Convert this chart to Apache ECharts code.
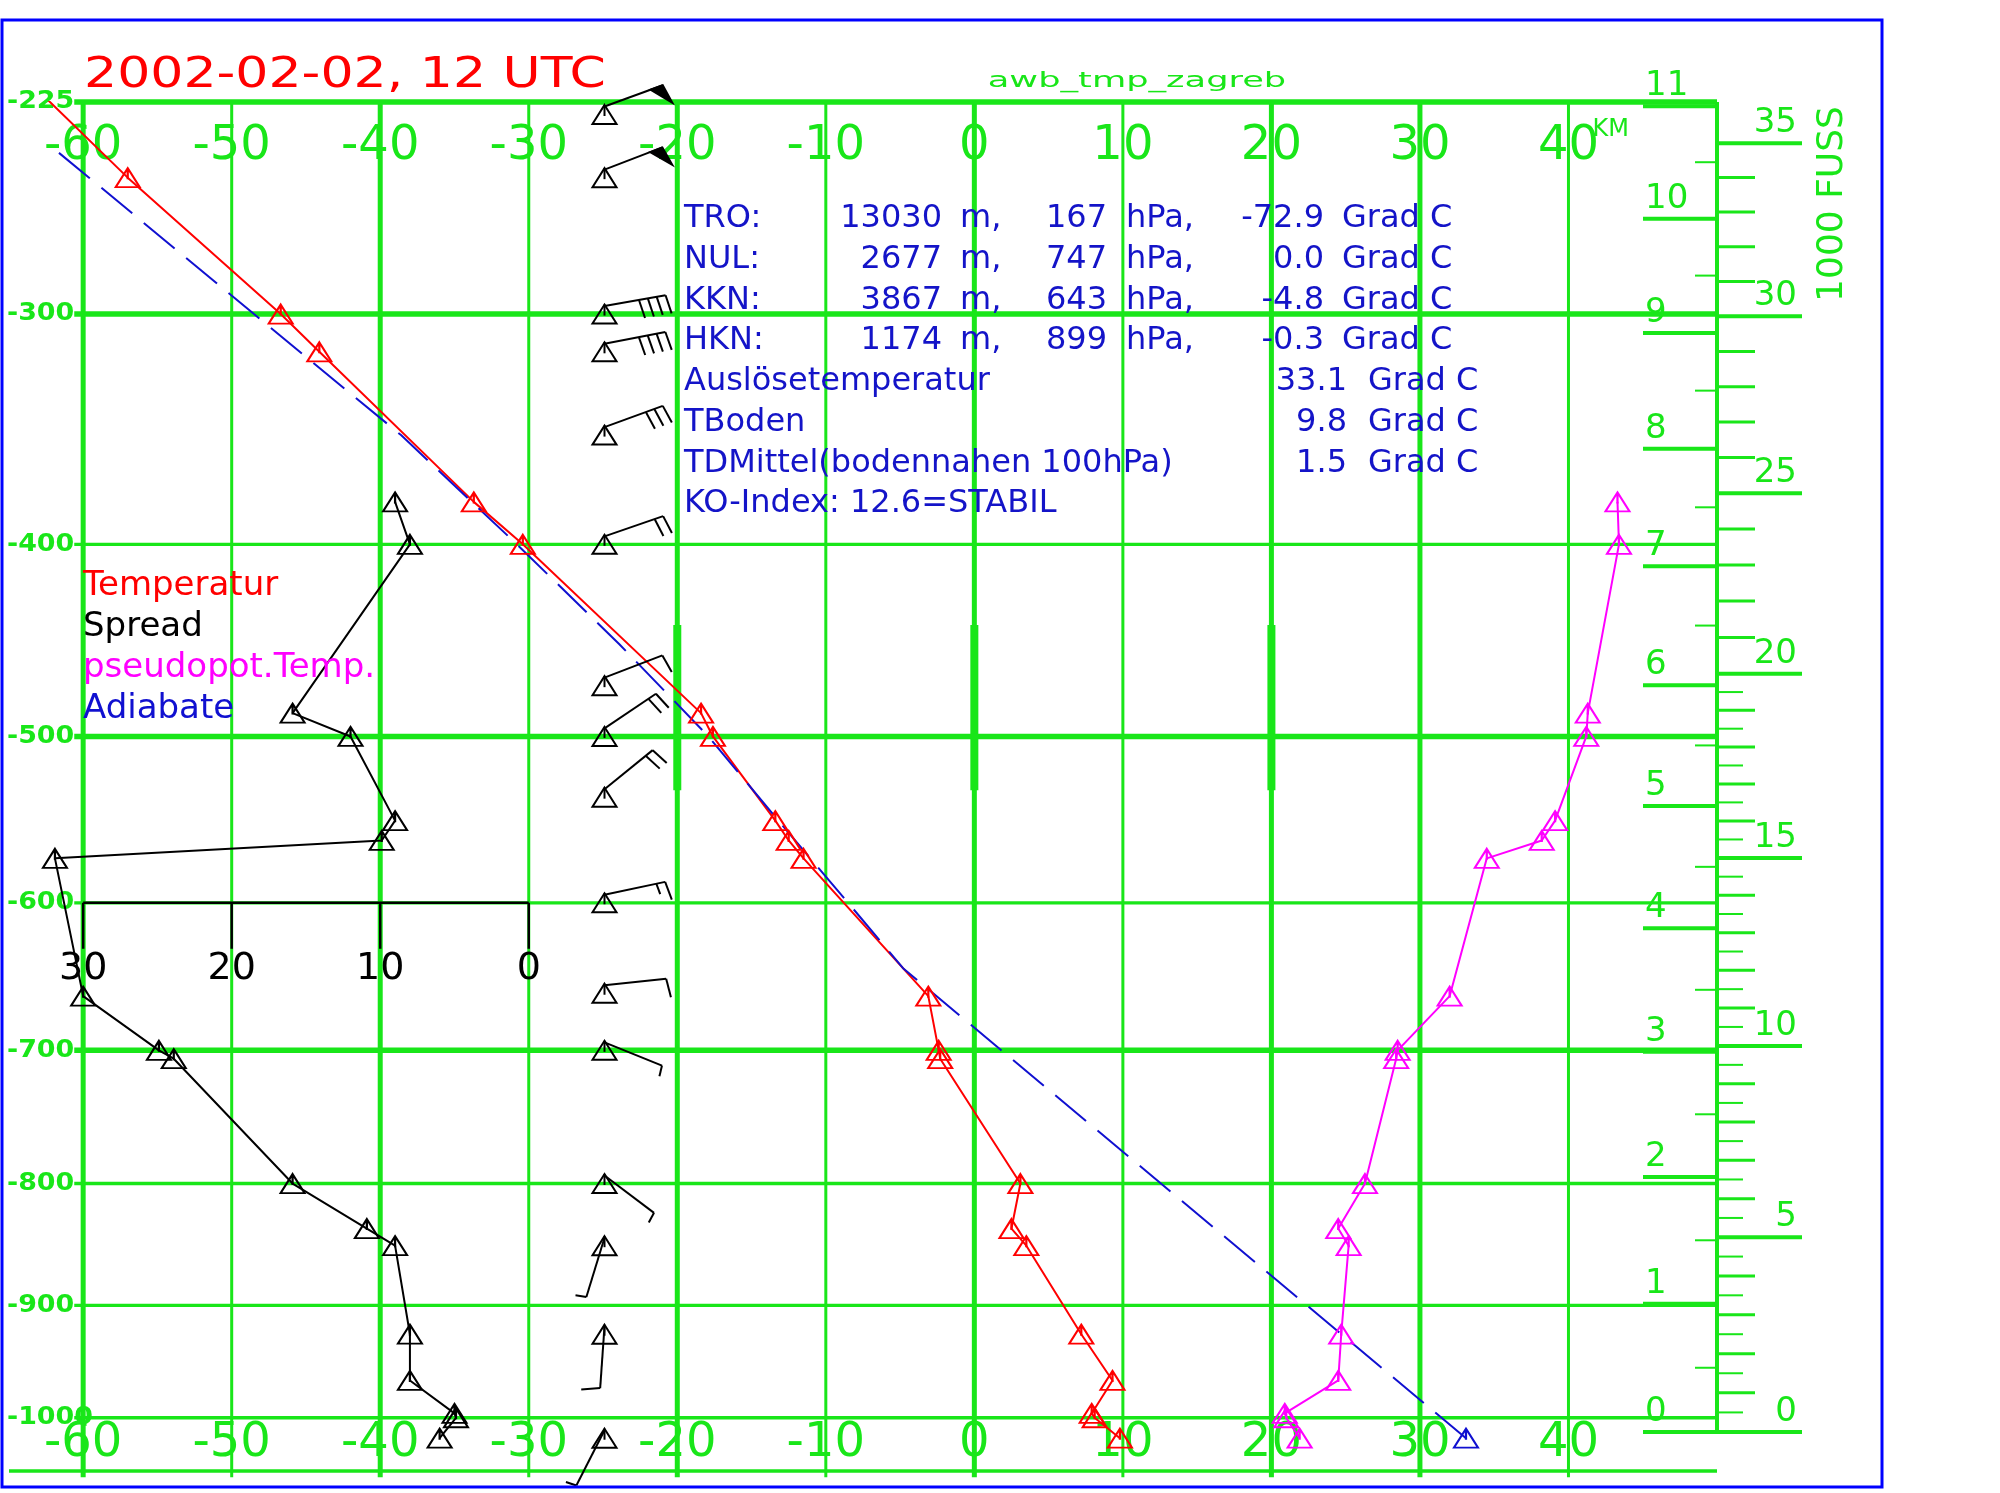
<!DOCTYPE html>
<html>
<head>
<meta charset="utf-8">
<title>awb_tmp_zagreb</title>
<script src="https://cdn.jsdelivr.net/npm/echarts@6/dist/echarts.min.js"></script>
<style>
  html, body { margin: 0; padding: 0; background: #fff; }
  #main { width: 2000px; height: 1493px; }
</style>
</head>
<body>
<div id="main"></div>
<script>
// sounding Zagreb, values (hPa / deg C / kt)
const tempP   = [200, 250, 300, 315, 380, 400, 487, 500, 549, 561, 572, 662, 700, 706, 800, 836, 850, 925, 966, 996, 1000, 1019];
const tempC   = [-67.9, -57.0, -46.7, -44.1, -33.7, -30.4, -18.4, -17.6, -13.4, -12.5, -11.5, -3.1, -2.4, -2.3, 3.1, 2.5, 3.5, 7.2, 9.3, 7.9, 8.1, 9.8];
const spreadP = [380, 400, 487, 500, 549, 561, 572, 662, 700, 706, 800, 836, 850, 925, 966, 996, 1000, 1019];
const spreadK = [9.0, 8.0, 15.9, 12.0, 9.0, 9.9, 31.9, 30.0, 24.9, 23.9, 15.9, 10.9, 9.0, 8.0, 8.0, 5.0, 4.9, 6.0];
const thetaP  = [380, 400, 487, 500, 549, 561, 572, 662, 700, 706, 800, 836, 850, 925, 966, 996, 1000, 1019];
const thetaC  = [43.3, 43.4, 41.3, 41.2, 39.1, 38.2, 34.5, 32.0, 28.5, 28.4, 26.3, 24.5, 25.2, 24.7, 24.5, 20.9, 21.0, 21.9];
const adiabatP = [1019, 643, 600, 550, 500, 450, 400, 350, 300, 250, 225];
const adiabatC = [33.1, -4.8, -8.5, -13.1, -17.9, -23.9, -30.8, -38.6, -48.5, -59.6, -65.8];
const windP   = [229, 250, 300, 315, 350, 400, 472, 500, 535, 600, 660, 700, 800, 850, 925, 1019];
const windDir = [70, 69, 80, 79, 70, 71, 69, 56, 51, 78, 84, 112, 127, 197, 184, 207];
const windKt  = [50, 50, 40, 40, 30, 20, 10, 20, 20, 15, 10, 5, 5, 5, 10, 5];

// axes / tick labels
const isotherms = [-60, -50, -40, -30, -20, -10, 0, 10, 20, 30, 40];
const isothermLabels = ['-60', '-50', '-40', '-30', '-20', '-10', '0', '10', '20', '30', '40'];
const pressureLines = [225, 300, 400, 500, 600, 700, 800, 900, 1000, 1050];
const pressureLabels = ['-225', '-300', '-400', '-500', '-600', '-700', '-800', '-900', '-1000', ''];
const kmLabels = [0, 1, 2, 3, 4, 5, 6, 7, 8, 9, 10, 11];
const ftLabels = [0, 5, 10, 15, 20, 25, 30, 35];
const spreadTicks = [30, 20, 10, 0];

// text block
const levelNames = ['TRO:', 'NUL:', 'KKN:', 'HKN:'];
const levelHeights = [13030, 2677, 3867, 1174];
const levelPressures = [167, 747, 643, 899];
const levelTemps = ['-72.9', '0.0', '-4.8', '-0.3'];
const extraNames = ['Auslösetemperatur', 'TBoden', 'TDMittel(bodennahen 100hPa)'];
const extraValues = ['33.1', '9.8', '1.5'];
const koIndex = 'KO-Index: 12.6=STABIL';

const RED = '#ff0000', GREEN = '#19e619', BLUE = '#1010d0', MAGENTA = '#ff00ff', BLACK = '#000000';
const FONT = '"DejaVu Sans", sans-serif';
const T_MIN = -62.3, T_MAX = 50, P_TOP = 225, P_BOTTOM = 1050;
const BARB_T = -24.9;
const TRI = 'path://M12,0L24,19L0,19ZM12,0L12,11';

// stuve diagram: y linear in p^0.286
const Y = p => Math.pow(p, 0.286);
// ICAO standard atmosphere for the height scales
const stdP = km => 1013.25 * Math.pow(1 - 0.0065 * km * 1000 / 288.15, 5.25588);

function seg(x1, y1, x2, y2, w, color) {
  return { type: 'line', shape: { x1, y1, x2, y2 }, style: { stroke: color, lineWidth: w } };
}
function txt(text, x, y, font, fill, align, sx, rot) {
  return {
    type: 'text', x, y, scaleX: sx || 1, rotation: rot || 0, z: 100,
    style: { text, font, fill, align, verticalAlign: 'middle', textAlign: align, textVerticalAlign: 'middle' }
  };
}

function renderFrame(params, api) {
  const X = t => api.coord([t, Y(500)])[0];
  const P = p => api.coord([0, Y(p)])[1];
  const kids = [];
  const top = P(P_TOP), right = X(T_MAX);
  const heavyT = [-60, -40, -20, 0, 20, 30];
  const heavyP = [225, 300, 500, 700];

  isotherms.forEach((t, i) => {
    const x = X(t);
    kids.push(seg(x, top, x, P(1056), heavyT.indexOf(t) >= 0 ? 5 : 3, GREEN));
    kids.push(txt(isothermLabels[i], x, top + 45, '48px ' + FONT, GREEN, 'center'));
    kids.push(txt(isothermLabels[i], x, P(P_BOTTOM) - 27, '48px ' + FONT, GREEN, 'center'));
  });
  [-20, 0, 20].forEach(t => kids.push(seg(X(t), P(440), X(t), P(531), 8, GREEN)));

  pressureLines.forEach((p, i) => {
    const y = P(p);
    const x0 = pressureLabels[i] ? X(-60.6) : 9;
    kids.push(seg(x0, y, right, y, heavyP.indexOf(p) >= 0 ? 5.5 : 3.3, GREEN));
    if (pressureLabels[i]) kids.push(txt(pressureLabels[i], 7, y, 'bold 24px ' + FONT, GREEN, 'left', 1.12));
  });

  // km scale (left of axis) and 1000 ft scale (right of axis)
  kids.push(seg(right, top, right, P(stdP(0)), 4, GREEN));
  for (let h = 0.5; h < 11; h += 1) {
    const y = P(stdP(h));
    kids.push(seg(right - 22, y, right, y, 2, GREEN));
  }
  kmLabels.forEach(k => {
    const y = P(stdP(k));
    kids.push(seg(right - 74, y, right, y, 4, GREEN));
    kids.push(txt(String(k), right - 72, y - 20, '34px ' + FONT, GREEN, 'left'));
  });
  for (let f = 0; f <= 35000; f += 500) {
    if (f > 20000 && f % 1000) continue;
    const y = P(stdP(f * 0.0003048));
    const major = f % 5000 === 0, whole = f % 1000 === 0;
    kids.push(seg(right, y, right + (major ? 85 : whole ? 38 : 26), y, major ? 4 : whole ? 3 : 2, GREEN));
  }
  ftLabels.forEach(f => {
    const y = P(stdP(f * 0.3048));
    kids.push(txt(String(f), right + 80, y - 20, '34px ' + FONT, GREEN, 'right'));
  });
  kids.push(txt('KM', X(40) + 24, top + 28, '24px ' + FONT, GREEN, 'left'));
  kids.push(txt('1000 FUSS', right + 116, top + 102, '36px ' + FONT, GREEN, 'center', 1, Math.PI / 2));

  // spread scale on the 600 hPa line
  const ys = P(600);
  kids.push(seg(X(-60), ys, X(-30), ys, 2.5, BLACK));
  spreadTicks.forEach(s => {
    const x = X(-30 - s);
    kids.push(seg(x, ys, x, ys + 46, 2.5, BLACK));
    kids.push(txt(String(s), x, ys + 66, '38px ' + FONT, BLACK, 'center'));
  });
  return { type: 'group', children: kids };
}

function triangle(cx, cy, color) {
  return [
    { type: 'polygon', shape: { points: [[cx, cy - 9.5], [cx + 12, cy + 9.5], [cx - 12, cy + 9.5]] },
      style: { fill: 'none', stroke: color, lineWidth: 2 } },
    seg(cx, cy - 9.5, cx, cy + 1.5, 2, color)
  ];
}

function renderBarb(params, api) {
  const c = api.coord([api.value(0), api.value(1)]);
  const d = api.value(2) * Math.PI / 180;
  let kt = api.value(3);
  const ux = Math.sin(d), uy = -Math.cos(d);
  let nx = -uy + ux * 0.15, ny = ux + uy * 0.15;
  const nl = Math.hypot(nx, ny); nx /= nl; ny /= nl;
  const sx = c[0], sy = c[1] - 8;
  const tx = sx + ux * 62, ty = sy + uy * 62;
  const kids = triangle(c[0], c[1], BLACK);
  kids.push(seg(sx, sy, tx, ty, 2, BLACK));
  const at = s => [tx - ux * s, ty - uy * s];
  let pos = 0;
  while (kt >= 50) {
    const a = at(pos), b = at(pos + 13);
    kids.push({ type: 'polygon', shape: { points: [a, b, [a[0] + nx * 20, a[1] + ny * 20]] },
      style: { fill: BLACK, stroke: BLACK, lineWidth: 2 } });
    pos += 15; kt -= 50;
  }
  while (kt >= 10) {
    const a = at(pos);
    kids.push(seg(a[0], a[1], a[0] + nx * 19, a[1] + ny * 19, 2, BLACK));
    pos += 9; kt -= 10;
  }
  if (kt >= 5) {
    const a = at(pos);
    kids.push(seg(a[0], a[1], a[0] + nx * 11, a[1] + ny * 11, 2, BLACK));
  }
  return { type: 'group', children: kids };
}

function profile(name, P, X, color, extra) {
  return Object.assign({
    name, type: 'line', z: 3, silent: true,
    data: P.map((p, i) => p < P_TOP ? { value: [X[i], Y(p)], symbol: 'none' } : [X[i], Y(p)]),
    symbol: TRI, symbolSize: [24, 19], showAllSymbol: true,
    lineStyle: { color, width: 2 },
    itemStyle: { color: 'rgba(0,0,0,0)', borderColor: color, borderWidth: 2 },
    emphasis: { disabled: true }
  }, extra || {});
}

const graphics = [
  { type: 'rect', z: 100, shape: { x: 2, y: 20, width: 1880, height: 1467 },
    style: { fill: 'none', stroke: '#0000ff', lineWidth: 3 } },
  txt('2002-02-02, 12 UTC', 84, 76, '42px ' + FONT, RED, 'left', 1.24),
  txt('awb_tmp_zagreb', 1137, 81, '22px ' + FONT, GREEN, 'center', 1.6),
  txt('Temperatur', 83, 586, '34px ' + FONT, RED, 'left'),
  txt('Spread', 83, 627, '34px ' + FONT, BLACK, 'left'),
  txt('pseudopot.Temp.', 83, 668, '34px ' + FONT, MAGENTA, 'left'),
  txt('Adiabate', 83, 709, '34px ' + FONT, BLUE, 'left')
];
const infoFont = '32px ' + FONT, INFO = '#1414c8';
levelNames.forEach((n, i) => {
  const y = 219 + i * 40.7;
  graphics.push(txt(n, 684, y, infoFont, INFO, 'left'));
  graphics.push(txt(String(levelHeights[i]), 942, y, infoFont, INFO, 'right'));
  graphics.push(txt('m,', 960, y, infoFont, INFO, 'left'));
  graphics.push(txt(String(levelPressures[i]), 1107, y, infoFont, INFO, 'right'));
  graphics.push(txt('hPa,', 1126, y, infoFont, INFO, 'left'));
  graphics.push(txt(levelTemps[i], 1324, y, infoFont, INFO, 'right'));
  graphics.push(txt('Grad C', 1342, y, infoFont, INFO, 'left'));
});
extraNames.forEach((n, i) => {
  const y = 219 + (4 + i) * 40.7;
  graphics.push(txt(n, 684, y, infoFont, INFO, 'left'));
  graphics.push(txt(extraValues[i], 1347, y, infoFont, INFO, 'right'));
  graphics.push(txt('Grad C', 1368, y, infoFont, INFO, 'left'));
});
graphics.push(txt(koIndex, 684, 219 + 7 * 40.7, infoFont, INFO, 'left'));

const chart = echarts.init(document.getElementById('main'));
chart.setOption({
  animation: false,
  backgroundColor: '#ffffff',
  grid: { left: 49, top: 102, width: 1668, height: 1369 },
  xAxis: { type: 'value', min: T_MIN, max: T_MAX, show: false },
  yAxis: { type: 'value', min: Y(P_TOP), max: Y(P_BOTTOM), inverse: true, show: false },
  graphic: graphics,
  series: [
    { type: 'custom', name: 'frame', z: 1, silent: true, data: [[0, Y(500)]], renderItem: renderFrame },
    profile('Temperatur', tempP, tempC, RED),
    profile('Spread', spreadP, spreadK.map(s => -30 - s), BLACK),
    profile('pseudopot.Temp.', thetaP, thetaC, MAGENTA),
    profile('Adiabate', adiabatP, adiabatC, BLUE, {
      data: adiabatP.map((p, i) => i === 0 ? [adiabatC[i], Y(p)] : { value: [adiabatC[i], Y(p)], symbol: 'none' }),
      lineStyle: { color: BLUE, width: 2, type: [40, 15] }
    }),
    { type: 'custom', name: 'Wind', z: 4, silent: true,
      data: windP.map((p, i) => [BARB_T, Y(p), windDir[i], windKt[i]]), renderItem: renderBarb }
  ]
});
</script>
</body>
</html>
